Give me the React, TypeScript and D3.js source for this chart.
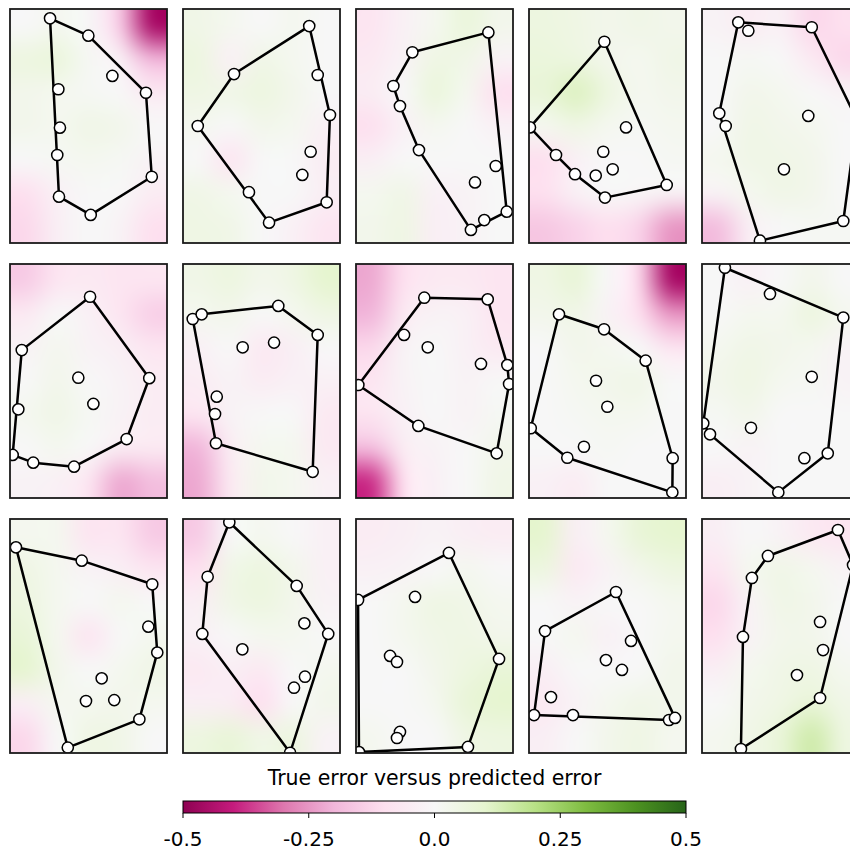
import React, { useMemo } from 'react';
import * as d3 from 'd3';

// ---------- DATA ----------
// Colorbar
const colorbarTitle = 'True error versus predicted error';
const colorbarTicks = [-0.5, -0.25, 0.0, 0.25, 0.5];
const colorbarTickLabels = ['-0.5', '-0.25', '0.0', '0.25', '0.5'];
const colorDomain = [-0.5, 0.5];
// matplotlib PiYG (ColorBrewer 11)
const piyg = ['#8e0152', '#c51b7d', '#de77ae', '#f1b6da', '#fde0ef', '#f7f7f7', '#e6f5d0', '#b8e186', '#7fbc41', '#4d9221', '#276419'];

// Sample points per panel, [x, y] in unit axes (y up)
const samples01 = [[0.255, 0.96], [0.499, 0.886], [0.652, 0.714], [0.866, 0.642], [0.308, 0.657], [0.318, 0.493], [0.301, 0.376], [0.903, 0.283], [0.312, 0.198], [0.514, 0.12]];
const samples02 = [[0.804, 0.927], [0.325, 0.722], [0.858, 0.718], [0.936, 0.547], [0.094, 0.5], [0.813, 0.39], [0.76, 0.291], [0.42, 0.217], [0.915, 0.174], [0.548, 0.087]];
const samples03 = [[0.843, 0.9], [0.359, 0.815], [0.238, 0.671], [0.28, 0.585], [0.401, 0.397], [0.89, 0.329], [0.758, 0.259], [0.96, 0.134], [0.817, 0.098], [0.732, 0.056]];
const samples04 = [[0.48, 0.86], [0.006, 0.494], [0.618, 0.494], [0.473, 0.39], [0.172, 0.376], [0.533, 0.315], [0.293, 0.294], [0.425, 0.288], [0.877, 0.248], [0.484, 0.194]];
const samples05 = [[0.231, 0.943], [0.295, 0.907], [0.699, 0.922], [0.11, 0.554], [0.151, 0.5], [0.677, 0.543], [0.522, 0.315], [0.9, 0.094], [0.369, 0.01], [0.987, 0.526]];
const samples06 = [[0.51, 0.86], [0.075, 0.632], [0.435, 0.514], [0.887, 0.512], [0.531, 0.402], [0.053, 0.379], [0.743, 0.252], [0.017, 0.184], [0.148, 0.151], [0.408, 0.134]];
const samples07 = [[0.062, 0.765], [0.119, 0.785], [0.607, 0.821], [0.858, 0.697], [0.38, 0.644], [0.58, 0.664], [0.215, 0.433], [0.204, 0.359], [0.21, 0.234], [0.826, 0.112]];
const samples08 = [[0.435, 0.856], [0.839, 0.849], [0.306, 0.697], [0.457, 0.644], [0.796, 0.573], [0.964, 0.568], [0.015, 0.483], [0.975, 0.487], [0.397, 0.308], [0.896, 0.191]];
const samples09 = [[0.191, 0.785], [0.478, 0.721], [0.743, 0.587], [0.427, 0.501], [0.499, 0.39], [0.011, 0.298], [0.35, 0.219], [0.244, 0.172], [0.915, 0.17], [0.913, 0.024]];
const samples10 = [[0.146, 0.984], [0.433, 0.872], [0.9, 0.771], [0.699, 0.518], [0.008, 0.319], [0.051, 0.272], [0.312, 0.3], [0.652, 0.17], [0.801, 0.191], [0.486, 0.024]];
const samples11 = [[0.038, 0.879], [0.457, 0.822], [0.906, 0.721], [0.881, 0.54], [0.938, 0.429], [0.584, 0.319], [0.484, 0.222], [0.664, 0.226], [0.824, 0.144], [0.368, 0.023]];
const samples12 = [[0.295, 0.986], [0.157, 0.753], [0.724, 0.714], [0.773, 0.554], [0.925, 0.509], [0.123, 0.509], [0.378, 0.443], [0.777, 0.326], [0.707, 0.279], [0.682, 0.001]];
const samples13 = [[0.592, 0.855], [0.376, 0.667], [0.911, 0.402], [0.217, 0.415], [0.261, 0.389], [0.013, 0.654], [0.019, 0.004], [0.28, 0.09], [0.261, 0.064], [0.713, 0.026]];
const samples14 = [[0.554, 0.688], [0.102, 0.521], [0.65, 0.479], [0.49, 0.397], [0.592, 0.355], [0.14, 0.239], [0.032, 0.162], [0.28, 0.162], [0.892, 0.141], [0.93, 0.15]];
const samples15 = [[0.866, 0.953], [0.42, 0.842], [0.318, 0.748], [0.752, 0.56], [0.771, 0.44], [0.261, 0.496], [0.605, 0.333], [0.752, 0.235], [0.248, 0.017], [0.962, 0.803]];

// Error fields per panel: rows top -> bottom, columns left -> right
const field01 = [[0, 0.02, 0, -0.15, -0.45], [0.06, 0.07, 0.01, -0.03, -0.2], [0.03, 0.02, 0.01, 0, -0.06], [0.03, 0.02, 0.04, 0.03, 0], [0, 0.01, 0.02, 0.01, -0.02], [-0.1, -0.03, 0, 0, -0.05], [-0.12, -0.04, 0, -0.02, -0.1]];
const field02 = [[0.04, 0.02, 0, 0.02, 0], [0.06, -0.03, 0.04, 0.02, 0], [0.05, 0.04, 0.06, 0.03, 0], [0.02, 0, 0.03, 0.02, -0.03], [0, -0.08, 0, 0, -0.05], [0.04, 0.02, 0, 0, -0.04], [0.05, 0.04, 0, -0.03, -0.08]];
const field03 = [[-0.08, -0.03, 0.02, 0.07, 0.03], [-0.06, -0.02, 0.05, 0.04, -0.02], [-0.05, 0, 0.07, 0.02, -0.1], [-0.1, -0.03, 0.02, 0, -0.03], [-0.04, 0, 0, 0, 0], [0.02, 0.04, -0.03, -0.02, 0], [0.03, 0.05, -0.04, -0.02, 0]];
const field04 = [[0.06, 0.05, 0.03, 0.04, 0.03], [0.07, 0.06, 0.03, 0.02, 0.04], [0.08, 0.12, 0.06, 0.02, 0.03], [0.02, 0.05, 0.02, 0.01, 0.02], [-0.1, -0.03, 0, 0, 0.01], [-0.1, -0.03, 0, -0.01, -0.02], [-0.16, -0.13, -0.1, -0.13, -0.25]];
const field05 = [[-0.02, -0.05, -0.03, -0.12, -0.1], [0, 0.01, 0, -0.06, -0.12], [0, 0.03, 0.02, 0, -0.02], [0, 0.04, 0.03, 0.02, 0], [0.02, 0.04, 0.04, 0.03, 0], [-0.02, 0.02, 0.04, 0.03, 0], [-0.18, -0.04, 0, 0.01, 0.01]];
const field06 = [[-0.15, -0.08, -0.06, -0.08, -0.08], [-0.06, 0, -0.03, -0.08, -0.14], [-0.02, 0.02, -0.02, -0.04, -0.08], [0, 0.03, 0, -0.02, -0.05], [0.02, 0.04, 0.01, -0.02, -0.05], [0, 0.02, 0, -0.05, -0.06], [-0.02, -0.03, -0.08, -0.22, -0.18]];
const field07 = [[0.04, 0.06, 0.03, 0.05, 0.1], [0.02, 0.03, 0, 0.02, 0.05], [-0.03, 0, -0.06, -0.04, 0], [-0.05, -0.02, -0.05, -0.03, -0.03], [-0.08, -0.02, 0, 0, -0.06], [-0.2, -0.05, 0.02, 0.02, -0.06], [-0.22, -0.06, 0.03, 0.02, -0.03]];
const field08 = [[-0.22, -0.1, -0.06, -0.06, -0.08], [-0.2, -0.06, -0.02, -0.03, -0.08], [-0.12, -0.02, 0, -0.03, -0.06], [-0.08, -0.02, 0, -0.02, 0], [-0.08, -0.03, 0, -0.02, 0.01], [-0.18, -0.05, -0.02, 0, 0.03], [-0.38, -0.1, -0.03, 0, 0.04]];
const field09 = [[0.05, 0.08, 0, -0.12, -0.45], [0.03, 0.04, -0.02, -0.1, -0.25], [0, 0.03, 0.02, 0, -0.08], [0, 0.02, 0.03, 0.04, 0], [0, 0.01, 0.02, 0.02, 0], [0, 0, 0.01, 0, 0], [-0.03, -0.05, 0, 0, 0]];
const field10 = [[0, -0.03, 0, 0.03, 0], [0, 0.02, 0.02, 0.06, 0.02], [0.02, 0.04, 0.03, 0.02, -0.02], [0.03, 0.05, 0.02, 0.01, -0.02], [0.01, 0.03, 0, 0, 0], [0, -0.02, 0, 0, 0], [-0.04, -0.02, 0, 0, 0]];
const field11 = [[0.02, 0.02, -0.08, -0.08, -0.15], [0.05, 0.02, -0.02, -0.04, -0.08], [0.06, 0.02, 0, 0.02, 0], [0.08, 0.02, -0.08, 0, 0.02], [0.1, 0.03, 0, 0.02, 0.04], [-0.04, 0.02, 0.02, 0.03, 0.02], [-0.12, 0, 0.05, 0.04, 0]];
const field12 = [[-0.15, 0, 0.02, 0, -0.03], [-0.1, 0.04, 0.06, 0.03, -0.03], [-0.04, 0.04, 0.06, 0.03, -0.02], [-0.03, 0, 0.02, 0.02, 0], [-0.06, -0.04, -0.06, 0, 0.02], [-0.04, -0.05, -0.1, 0, 0.03], [0.06, 0.08, 0.04, 0.06, -0.02]];
const field13 = [[-0.05, -0.04, -0.02, -0.04, -0.05], [-0.03, -0.02, 0, 0.02, 0], [0, 0.02, 0.05, 0.04, 0.02], [0, 0.02, 0.04, 0.05, 0.03], [0, 0, 0.03, 0.06, 0.08], [0, 0, 0.02, 0.08, 0.1], [0.02, 0, 0, 0.05, 0.06]];
const field14 = [[0.1, -0.04, 0.02, 0.08, 0.1], [0.06, -0.06, -0.02, 0.03, 0.06], [0, -0.02, 0, 0, 0.02], [0, 0.02, -0.03, 0, 0.02], [-0.04, 0, 0, 0, 0.03], [-0.06, -0.02, 0.02, 0.04, 0.03], [-0.04, 0, 0.03, 0.05, 0.02]];
const field15 = [[-0.04, 0, -0.02, -0.06, -0.08], [-0.08, 0.02, 0.04, 0.02, -0.02], [-0.12, -0.02, 0.04, 0.03, 0], [-0.1, -0.02, 0.03, 0.03, 0], [-0.04, 0.02, 0.04, 0.05, 0.02], [0, 0.03, 0.05, 0.08, 0.04], [0.02, 0.04, 0.08, 0.15, 0.06]];

const panelSamples = [samples01, samples02, samples03, samples04, samples05, samples06, samples07, samples08, samples09, samples10, samples11, samples12, samples13, samples14, samples15];
const panelFields = [field01, field02, field03, field04, field05, field06, field07, field08, field09, field10, field11, field12, field13, field14, field15];

// ---------- LAYOUT ----------
const W = 850;
const H = 853;
const NCOLS = 5;
const PANEL_W = 157;
const PANEL_H = 234;
const COL_STEP = 173;
const ROW_STEP = 255;
const LEFT0 = 10;
const TOP0 = 9;
const CB_LEFT = 183;
const CB_RIGHT = 686;
const CB_TOP = 801;
const CB_H = 12;

const color = d3
  .scaleLinear<string>()
  .domain(d3.range(piyg.length).map((i) => colorDomain[0] + (i * (colorDomain[1] - colorDomain[0])) / (piyg.length - 1)))
  .range(piyg)
  .interpolate(d3.interpolateRgb)
  .clamp(true);

function fieldToDataUrl(grid: number[][]): string {
  const rows = grid.length;
  const cols = grid[0].length;
  const small = document.createElement('canvas');
  small.width = cols;
  small.height = rows;
  const sctx = small.getContext('2d')!;
  const img = sctx.createImageData(cols, rows);
  grid.forEach((row, r) =>
    row.forEach((v, c) => {
      const col = d3.rgb(color(v));
      const k = (r * cols + c) * 4;
      img.data[k] = col.r;
      img.data[k + 1] = col.g;
      img.data[k + 2] = col.b;
      img.data[k + 3] = 255;
    })
  );
  sctx.putImageData(img, 0, 0);
  const big = document.createElement('canvas');
  big.width = PANEL_W;
  big.height = PANEL_H;
  const bctx = big.getContext('2d')!;
  bctx.imageSmoothingEnabled = true;
  (bctx as any).imageSmoothingQuality = 'high';
  bctx.drawImage(small, 0, 0, PANEL_W, PANEL_H);
  return big.toDataURL();
}

export default function App() {
  const images = useMemo(() => panelFields.map(fieldToDataUrl), []);
  const cbX = d3.scaleLinear().domain(colorDomain).range([CB_LEFT, CB_RIGHT]);

  return (
    <svg
      width={W}
      height={H}
      style={{ position: 'absolute', left: 0, top: 0, background: '#fff' }}
      fontFamily="DejaVu Sans, sans-serif"
    >
      <defs>
        {panelSamples.map((_, i) => {
          const L = LEFT0 + (i % NCOLS) * COL_STEP;
          const T = TOP0 + Math.floor(i / NCOLS) * ROW_STEP;
          return (
            <clipPath id={`clip${i}`} key={i}>
              <rect x={L} y={T} width={PANEL_W} height={PANEL_H} />
            </clipPath>
          );
        })}
        <linearGradient id="cbgrad" x1="0" x2="1" y1="0" y2="0">
          {piyg.map((c, i) => (
            <stop key={i} offset={i / (piyg.length - 1)} stopColor={c} />
          ))}
        </linearGradient>
      </defs>

      {panelSamples.map((pts, i) => {
        const L = LEFT0 + (i % NCOLS) * COL_STEP;
        const T = TOP0 + Math.floor(i / NCOLS) * ROW_STEP;
        const x = d3.scaleLinear().domain([0, 1]).range([L, L + PANEL_W]);
        const y = d3.scaleLinear().domain([0, 1]).range([T + PANEL_H, T]);
        const px = pts.map((p) => [x(p[0]), y(p[1])] as [number, number]);
        const hull = d3.polygonHull(px) || [];
        const line = d3.line().curve(d3.curveLinearClosed)(hull) || '';
        return (
          <g key={i}>
            <g clipPath={`url(#clip${i})`}>
              <image href={images[i]} x={L} y={T} width={PANEL_W} height={PANEL_H} preserveAspectRatio="none" />
              <path d={line} fill="none" stroke="#000" strokeWidth={2.5} strokeLinejoin="round" />
              {px.map((p, j) => (
                <circle key={j} cx={p[0]} cy={p[1]} r={5.6} fill="#fff" stroke="#000" strokeWidth={1.5} />
              ))}
            </g>
            <rect x={L} y={T} width={PANEL_W} height={PANEL_H} fill="none" stroke="#1a1a1a" strokeWidth={1.8} />
          </g>
        );
      })}

      {/* colorbar */}
      <text x={(CB_LEFT + CB_RIGHT) / 2} y={785} textAnchor="middle" fontSize={20.5} fill="#000">
        {colorbarTitle}
      </text>
      <rect x={CB_LEFT} y={CB_TOP} width={CB_RIGHT - CB_LEFT} height={CB_H} fill="url(#cbgrad)" stroke="#000" strokeWidth={1} />
      {colorbarTicks.map((t, i) => (
        <g key={i}>
          <line x1={cbX(t)} x2={cbX(t)} y1={CB_TOP + CB_H} y2={CB_TOP + CB_H + 5} stroke="#000" strokeWidth={1} />
          <text x={cbX(t)} y={846} textAnchor="middle" fontSize={20} fill="#000">
            {colorbarTickLabels[i]}
          </text>
        </g>
      ))}
    </svg>
  );
}
